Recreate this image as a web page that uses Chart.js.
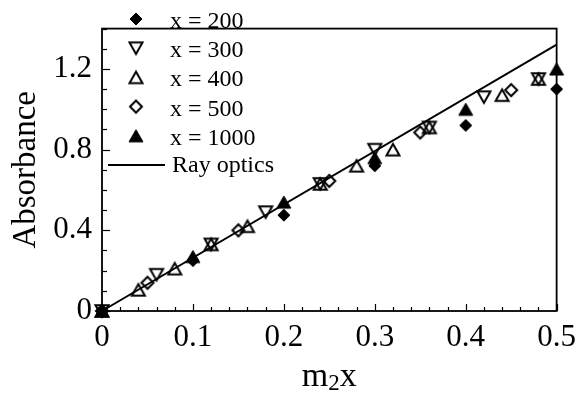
<!DOCTYPE html>
<html lang="en">
<head>
<meta charset="UTF-8">
<title>Absorbance vs m2x</title>
<script src="https://cdn.jsdelivr.net/npm/chart.js"></script>
<style>
  html, body { margin: 0; padding: 0; background: #fff; }
  .chart-box { width: 584px; height: 394px; }
</style>
</head>
<body>
<div class="chart-box"><canvas id="absChart"></canvas></div>
<script>
// m2x and absorbance for each size parameter x
const m2x200 = [0, 0.1, 0.2, 0.3, 0.4, 0.5];
const abs200 = [0, 0.25, 0.475, 0.72, 0.92, 1.10];

const m2x300 = [0, 0.06, 0.12, 0.18, 0.24, 0.30, 0.36, 0.42, 0.48];
const abs300 = [0, 0.18, 0.33, 0.49, 0.63, 0.80, 0.91, 1.06, 1.15];

const m2x400 = [0, 0.04, 0.08, 0.12, 0.16, 0.24, 0.28, 0.32, 0.36, 0.44, 0.48];
const abs400 = [0, 0.105, 0.21, 0.33, 0.42, 0.63, 0.72, 0.80, 0.91, 1.07, 1.15];

const m2x500 = [0, 0.05, 0.15, 0.25, 0.35, 0.45];
const abs500 = [0, 0.14, 0.40, 0.645, 0.885, 1.095];

const m2x1000 = [0, 0.1, 0.2, 0.3, 0.4, 0.5];
const abs1000 = [0, 0.27, 0.54, 0.76, 1.00, 1.20];

// ray optics prediction (straight line)
const m2xRay = [0, 0.5];
const absRay = [0, 1.32];

const xTicks = [0, 0.1, 0.2, 0.3, 0.4, 0.5];
const yTicks = [0, 0.4, 0.8, 1.2];

const serif = "'Liberation Serif', 'Times New Roman', serif";

function pairs(xs, ys) {
    return xs.map((x, i) => ({ x: x, y: ys[i] }));
}

// marker images, centred on their bounding box so up/down triangles overlap as an hourglass
function makeMarker(kind, size, filled) {
    const c = document.createElement('canvas');
    c.width = 20;
    c.height = 20;
    const g = c.getContext('2d');
    const m = 10;
    const half = size / 2;
    g.beginPath();
    if (kind === 'diamond') {
        g.moveTo(m, m - half);
        g.lineTo(m + half, m);
        g.lineTo(m, m + half);
        g.lineTo(m - half, m);
    } else {
        const h = size * Math.sqrt(3) / 2;
        const dir = kind === 'up' ? 1 : -1;
        g.moveTo(m, m - dir * h / 2);
        g.lineTo(m + half, m + dir * h / 2);
        g.lineTo(m - half, m + dir * h / 2);
    }
    g.closePath();
    g.lineJoin = 'miter';
    if (filled) {
        g.fillStyle = '#000';
        g.fill();
        g.lineWidth = 1;
    } else {
        g.lineWidth = 2;
    }
    g.strokeStyle = '#000';
    g.stroke();
    return c;
}

const series = [
    { label: 'x = 200', xs: m2x200, ys: abs200, marker: makeMarker('diamond', 12, true) },
    { label: 'x = 300', xs: m2x300, ys: abs300, marker: makeMarker('down', 13, false) },
    { label: 'x = 400', xs: m2x400, ys: abs400, marker: makeMarker('up', 13, false) },
    { label: 'x = 500', xs: m2x500, ys: abs500, marker: makeMarker('diamond', 12, false) },
    { label: 'x = 1000', xs: m2x1000, ys: abs1000, marker: makeMarker('up', 14, true) }
];

const datasets = series.map(s => ({
    label: s.label,
    data: pairs(s.xs, s.ys),
    showLine: false,
    clip: false,
    pointStyle: s.marker,
    pointRadius: 10,
    pointHoverRadius: 10
}));

datasets.push({
    label: 'Ray optics',
    data: pairs(m2xRay, absRay),
    showLine: true,
    clip: false,
    borderColor: '#000',
    borderWidth: 2,
    pointRadius: 0,
    fill: false
});

// inward ticks, frame, axis titles and legend
const decorations = {
    id: 'decorations',
    beforeDatasetsDraw(chart) {
        const ctx = chart.ctx;
        const area = chart.chartArea;
        const xs = chart.scales.x;
        const ys = chart.scales.y;
        ctx.save();
        ctx.strokeStyle = '#000';
        ctx.lineWidth = 1.2;

        // x ticks every 0.02, major every 0.1
        for (let i = 0; i <= 25; i++) {
            const px = Math.round(xs.getPixelForValue(i * 0.02)) + 0.5;
            const len = i % 5 === 0 ? 7 : 4;
            ctx.beginPath();
            ctx.moveTo(px, area.bottom);
            ctx.lineTo(px, area.bottom - len);
            ctx.stroke();
        }
        // y ticks every 0.1, major every 0.4
        for (let i = 0; i <= 14; i++) {
            const py = Math.round(ys.getPixelForValue(i * 0.1)) + 0.5;
            const len = i % 4 === 0 ? 8 : 5;
            ctx.beginPath();
            ctx.moveTo(area.left, py);
            ctx.lineTo(area.left + len, py);
            ctx.stroke();
        }

        // frame
        ctx.lineWidth = 1.8;
        ctx.strokeRect(area.left, area.top, area.right - area.left, area.bottom - area.top);
        ctx.restore();
    },
    afterDraw(chart) {
        const ctx = chart.ctx;
        const area = chart.chartArea;
        ctx.save();

        // x title with subscript: m2x
        ctx.fillStyle = '#000';
        ctx.textBaseline = 'alphabetic';
        ctx.textAlign = 'left';
        const big = '34px ' + serif;
        const small = '23px ' + serif;
        ctx.font = big;
        const wm = ctx.measureText('m').width;
        const wx = ctx.measureText('x').width;
        ctx.font = small;
        const w2 = ctx.measureText('2').width;
        const cx = (area.left + area.right) / 2;
        let tx = cx - (wm + w2 + wx) / 2;
        const base = 386;
        ctx.font = big;
        ctx.fillText('m', tx, base);
        tx += wm;
        ctx.font = small;
        ctx.fillText('2', tx, base + 4);
        tx += w2;
        ctx.font = big;
        ctx.fillText('x', tx, base);

        // y title
        ctx.save();
        ctx.translate(35, (area.top + area.bottom) / 2);
        ctx.rotate(-Math.PI / 2);
        ctx.textAlign = 'center';
        ctx.font = '33px ' + serif;
        ctx.fillText('Absorbance', 0, 0);
        ctx.restore();

        // legend
        ctx.font = '24px ' + serif;
        ctx.textAlign = 'left';
        const rowH = 29.2;
        series.forEach((s, i) => {
            const ry = 19 + i * rowH;
            ctx.drawImage(s.marker, 136 - s.marker.width / 2, ry - s.marker.height / 2);
            ctx.fillText(s.label, 170, ry + 9);
        });
        const ly = 19 + 5 * rowH;
        ctx.strokeStyle = '#000';
        ctx.lineWidth = 2;
        ctx.beginPath();
        ctx.moveTo(108, ly);
        ctx.lineTo(165, ly);
        ctx.stroke();
        ctx.fillText('Ray optics', 172, ly + 7);

        ctx.restore();
    }
};

new Chart(document.getElementById('absChart'), {
    type: 'scatter',
    data: { datasets: datasets },
    options: {
        responsive: true,
        maintainAspectRatio: false,
        animation: false,
        layout: { padding: { top: 5, right: 20, left: 0, bottom: 0 } },
        plugins: {
            legend: { display: false },
            tooltip: { enabled: false }
        },
        scales: {
            x: {
                type: 'linear',
                min: 0,
                max: 0.5,
                afterFit: scale => { scale.height = 83; },
                afterBuildTicks: scale => { scale.ticks = xTicks.map(v => ({ value: v })); },
                grid: { display: false, drawTicks: false },
                border: { display: false },
                ticks: {
                    padding: 8,
                    color: '#000',
                    font: { family: serif, size: 31 },
                    maxRotation: 0,
                    callback: v => (v === 0 ? '0' : v.toFixed(1))
                }
            },
            y: {
                type: 'linear',
                min: 0,
                max: 1.4,
                afterFit: scale => { scale.width = 102; },
                afterBuildTicks: scale => { scale.ticks = yTicks.map(v => ({ value: v })); },
                grid: { display: false, drawTicks: false },
                border: { display: false },
                ticks: {
                    padding: 10,
                    color: '#000',
                    font: { family: serif, size: 31 },
                    callback: v => (v === 0 ? '0' : v.toFixed(1))
                }
            }
        }
    },
    plugins: [decorations]
});
</script>
</body>
</html>
